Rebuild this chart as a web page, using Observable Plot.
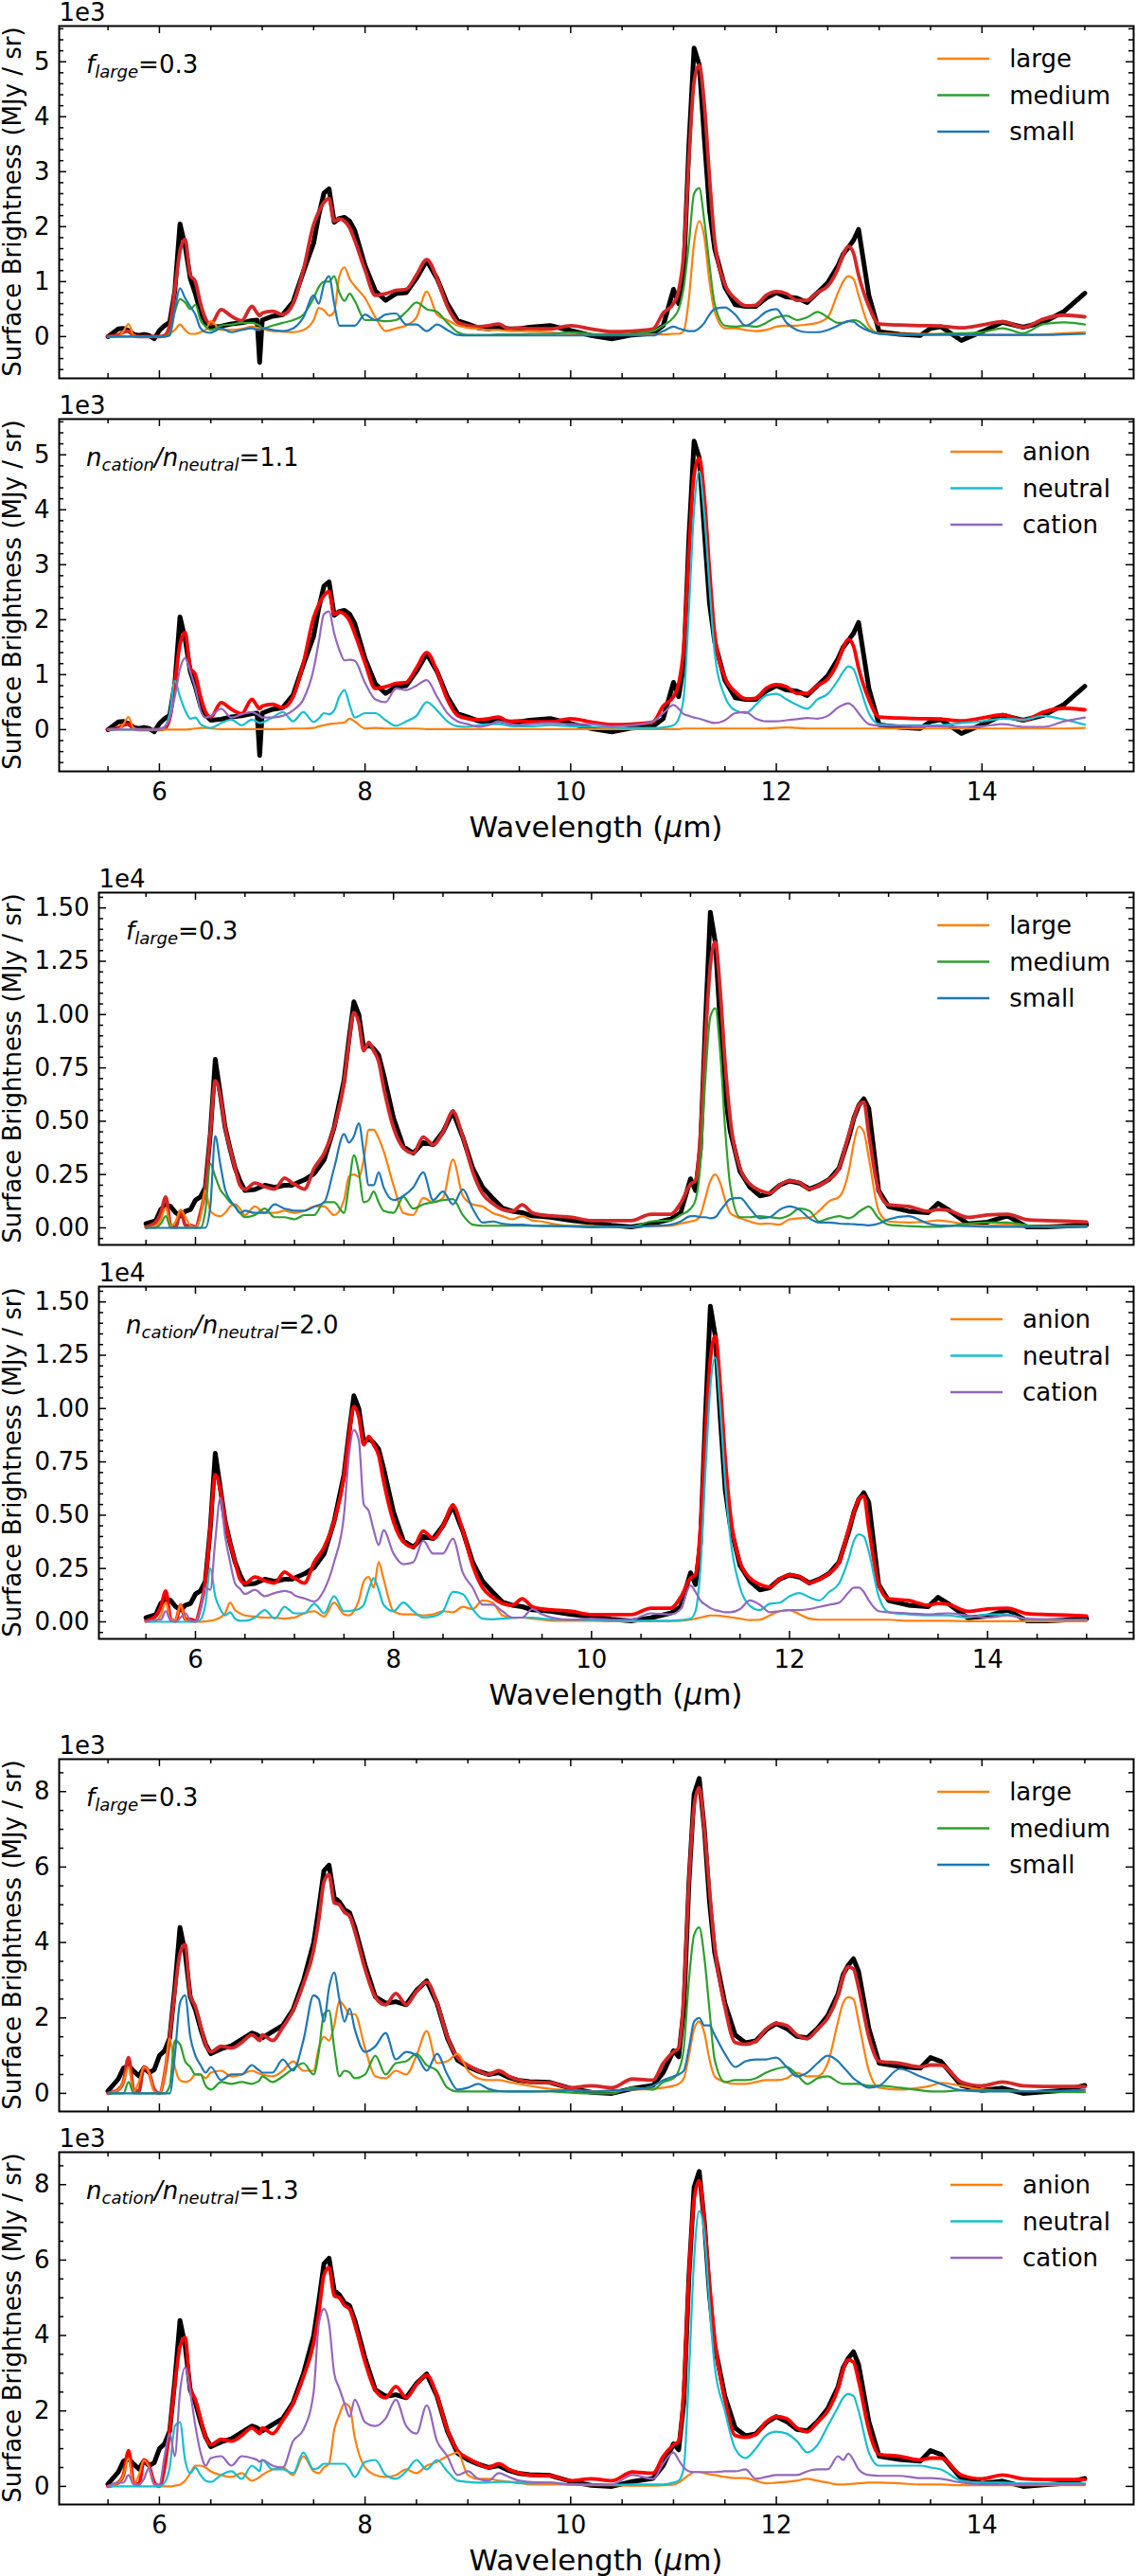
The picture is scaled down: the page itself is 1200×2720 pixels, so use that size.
<!DOCTYPE html>
<html>
<head>
<meta charset="utf-8">
<script src="https://cdn.jsdelivr.net/npm/d3@7"></script>
<script src="https://cdn.jsdelivr.net/npm/@observablehq/plot@0.6"></script>
<style>
  html, body { margin: 0; padding: 0; background: #fff; overflow: hidden; }
  #figure { position: relative; width: 1200px; height: 2720px; }
  #figure svg { position: absolute; left: 0; overflow: visible; }
</style>
</head>
<body>
<div id="figure"></div>
<script>
// Shared wavelength grid (micron) for every spectrum below
const wavelength = [5.5, 5.6, 5.65, 5.7, 5.75, 5.8, 5.85, 5.9, 5.95, 6.0,
  6.05, 6.1, 6.15, 6.2, 6.25, 6.3, 6.35, 6.4, 6.45, 6.5,
  6.6, 6.7, 6.8, 6.9, 6.95, 6.975, 7.0, 7.1, 7.2, 7.3,
  7.4, 7.5, 7.55, 7.6, 7.65, 7.7, 7.75, 7.8, 7.85, 7.9,
  8.0, 8.1, 8.2, 8.3, 8.4, 8.5, 8.6, 8.7, 8.8, 8.9,
  9.0, 9.1, 9.2, 9.3, 9.4, 9.5, 9.6, 9.8, 10.0, 10.2,
  10.4, 10.6, 10.8, 10.9, 11.0, 11.05, 11.1, 11.15, 11.2, 11.25,
  11.3, 11.35, 11.4, 11.5, 11.6, 11.7, 11.8, 11.9, 12.0, 12.1,
  12.2, 12.3, 12.4, 12.5, 12.6, 12.65, 12.7, 12.75, 12.8, 12.9,
  13.0, 13.2, 13.4, 13.5, 13.6, 13.8, 14.0, 14.2, 14.4, 14.6, 14.8, 15.0];

// ---- Region A (surface brightness, MJy/sr) ----
const observedA = [0, 140, 150, 110, 40, 20, 40, 20, -40, 110,
  200, 260, 830, 2050, 1650, 1060, 780, 430, 260, 170,
  190, 230, 250, 290, 300, -470, 300, 370, 400, 630,
  1180, 1700, 2210, 2610, 2690, 2080, 2150, 2170, 2100, 1930,
  1290, 830, 660, 780, 800, 1060, 1380, 1060, 600, 290,
  230, 160, 140, 170, 140, 140, 170, 200, 110, 20,
  -40, 30, 60, 200, 860, 600, 1200, 3500, 5250, 4950,
  3600, 2300, 1600, 900, 580, 550, 550, 700, 800, 720,
  700, 620, 800, 980, 1290, 1500, 1620, 1750, 1950, 750,
  90, 40, 20, 150, 180, -70, 90, 260, 170, 260, 460, 790];
const modelA = [0, 30, 80, 100, 20, 0, 0, 0, 0, 0,
  20, 200, 850, 1550, 1770, 1120, 1000, 600, 320, 230,
  490, 370, 290, 550, 430, 380, 430, 460, 400, 600,
  1210, 2040, 2270, 2440, 2510, 2100, 2140, 2100, 1980, 1750,
  1210, 750, 780, 840, 860, 1120, 1400, 1060, 550, 260,
  200, 180, 200, 230, 140, 160, 140, 140, 200, 140,
  90, 100, 140, 430, 600, 830, 1520, 3250, 4630, 4940,
  4220, 2900, 1750, 950, 690, 560, 570, 750, 820, 780,
  660, 660, 800, 920, 1240, 1490, 1640, 1520, 1120, 550,
  230, 210, 200, 200, 190, 160, 210, 270, 170, 320, 390, 360];
const largeA = [0, 0, 100, 230, 20, 0, 0, 0, 0, 0,
  0, 50, 120, 220, 120, 50, 50, 80, 120, 280,
  120, 120, 140, 180, 160, 150, 140, 100, 90, 80,
  120, 300, 520, 480, 380, 450, 1100, 1260, 1050, 920,
  700, 350, 100, 150, 200, 350, 820, 400, 300, 200,
  160, 140, 120, 120, 100, 100, 100, 80, 40, 30,
  30, 30, 40, 40, 50, 50, 100, 700, 1700, 2100,
  1800, 1000, 450, 150, 150, 120, 100, 120, 180, 200,
  200, 220, 250, 350, 800, 1000, 1100, 1050, 750, 200,
  60, 50, 50, 50, 50, 40, 30, 30, 30, 40, 60, 80];
const mediumA = [0, 0, 0, 0, 0, 0, 0, 0, 0, 0,
  0, 50, 450, 680, 620, 500, 580, 300, 180, 120,
  200, 220, 250, 250, 220, 200, 150, 200, 250, 300,
  400, 700, 900, 1000, 1000, 1100, 800, 650, 780, 650,
  300, 300, 280, 300, 450, 620, 500, 450, 250, 80,
  30, 30, 30, 40, 40, 40, 50, 50, 80, 50,
  40, 50, 100, 200, 350, 500, 900, 1700, 2600, 2700,
  2100, 1300, 600, 200, 180, 200, 180, 250, 350, 380,
  300, 350, 450, 350, 250, 250, 280, 300, 280, 120,
  50, 40, 40, 40, 50, 60, 80, 150, 60, 230, 260, 220];
const smallA = [0, 0, 0, 0, 0, 0, 0, 0, 0, 0,
  0, 20, 500, 880, 700, 550, 400, 150, 80, 70,
  150, 80, 120, 150, 120, 120, 150, 120, 100, 150,
  350, 750, 600, 950, 1100, 600, 200, 200, 200, 200,
  400, 300, 400, 420, 220, 220, 100, 220, 120, 30,
  20, 20, 20, 20, 20, 20, 20, 20, 20, 20,
  20, 20, 20, 100, 180, 150, 120, 100, 100, 150,
  250, 400, 500, 530, 400, 200, 300, 450, 500, 250,
  120, 80, 80, 120, 200, 250, 280, 270, 200, 100,
  50, 30, 30, 30, 30, 30, 30, 30, 30, 30, 40, 50];
const anionA = [0, 0, 100, 230, 20, 0, 0, 0, 0, 0,
  0, 0, 0, 0, 0, 10, 20, 30, 30, 20,
  10, 10, 10, 10, 10, 10, 10, 10, 10, 20,
  20, 30, 60, 80, 100, 110, 120, 130, 200, 150,
  20, 30, 20, 20, 20, 20, 10, 10, 10, 10,
  10, 10, 10, 10, 10, 10, 10, 10, 10, 10,
  10, 10, 10, 10, 10, 10, 20, 20, 20, 20,
  20, 20, 20, 20, 20, 20, 20, 20, 30, 40,
  30, 20, 20, 20, 20, 20, 20, 20, 20, 20,
  20, 20, 20, 20, 20, 20, 20, 20, 20, 20, 20, 30];
const neutralA = [0, 0, 0, 0, 0, 0, 0, 0, 0, 0,
  50, 300, 890, 600, 350, 200, 220, 100, 50, 30,
  120, 180, 80, 180, 140, 120, 130, 220, 320, 150,
  320, 140, 200, 300, 280, 350, 600, 720, 450, 220,
  300, 300, 170, 70, 150, 250, 500, 350, 150, 60,
  50, 80, 100, 100, 70, 60, 60, 80, 60, 50,
  40, 30, 30, 40, 80, 200, 600, 2200, 4000, 4700,
  3900, 2600, 1400, 600, 350, 300, 450, 620, 650, 550,
  450, 380, 550, 650, 900, 1050, 1150, 1100, 850, 300,
  100, 80, 80, 80, 80, 120, 150, 200, 180, 250, 180, 90];
const cationA = [0, 0, 0, 0, 0, 0, 0, 0, 0, 20,
  50, 200, 600, 1100, 1300, 1050, 750, 350, 220, 250,
  380, 220, 280, 320, 280, 250, 220, 220, 250, 350,
  550, 1100, 1600, 2100, 2150, 1750, 1450, 1260, 1270, 1250,
  850, 550, 500, 750, 720, 800, 900, 600, 300, 150,
  100, 50, 80, 150, 100, 80, 100, 120, 100, 100,
  60, 80, 150, 300, 450, 380, 280, 250, 220, 200,
  170, 140, 120, 170, 300, 320, 200, 150, 150, 170,
  190, 210, 200, 250, 400, 450, 480, 420, 300, 100,
  70, 70, 60, 60, 60, 50, 60, 100, 50, 50, 150, 220];

// ---- Region B ----
const observedB = [190, 340, 860, 1080, 1000, 710, 560, 780, 860, 1300,
  1450, 1900, 4400, 7900, 6300, 4700, 3700, 2800, 2200, 1750,
  1800, 2000, 1900, 2000, 2000, 2000, 2050, 2250, 2550, 3200,
  4700, 6900, 8850, 10600, 10000, 8400, 8600, 8400, 8100, 7200,
  5150, 3800, 3500, 4000, 3900, 4500, 5450, 4250, 2800, 1900,
  1400, 930, 780, 710, 560, 530, 490, 340, 240, 120,
  40, 190, 410, 710, 2300, 1750, 3700, 9600, 14800, 13400,
  9600, 6200, 4560, 2640, 1900, 1500, 1600, 2000, 2200, 2100,
  1820, 2000, 2270, 2800, 4260, 5150, 5750, 6050, 5600, 1750,
  1000, 780, 710, 1150, 860, 190, 270, 560, 40, 40, 90, 150];
const modelB = [40, 270, 700, 1450, 120, 40, 780, 120, 120, 40,
  700, 1900, 4400, 6900, 6200, 4700, 3700, 2800, 2000, 1800,
  2100, 1930, 1820, 2340, 2200, 2100, 2050, 1820, 2800, 3500,
  4700, 6800, 8700, 10100, 9600, 8300, 8700, 8300, 7800, 6600,
  4700, 3750, 3500, 4260, 3900, 4500, 5450, 4260, 2640, 1600,
  1150, 860, 780, 1080, 710, 600, 560, 490, 340, 340,
  340, 640, 640, 1150, 2050, 2200, 4400, 8850, 12300, 13400,
  11100, 7700, 5150, 2800, 2050, 1750, 1630, 2000, 2200, 2120,
  1820, 2000, 2270, 2800, 4400, 5150, 5750, 5900, 4400, 1750,
  1080, 1000, 780, 860, 830, 490, 600, 640, 380, 340, 310, 270];
const largeB = [0, 100, 400, 950, 100, 300, 850, 500, 100, 20,
  500, 1750, 800, 600, 550, 700, 1000, 1100, 900, 600,
  1000, 700, 700, 800, 750, 720, 700, 800, 1000, 1000,
  600, 1300, 2400, 2500, 2400, 3200, 4600, 4600, 4200, 3600,
  2000, 700, 600, 1400, 1200, 1400, 3200, 1500, 1100, 1000,
  700, 550, 400, 550, 350, 300, 200, 100, 100, 50,
  50, 80, 100, 200, 300, 350, 600, 1400, 2200, 2500,
  2100, 1300, 700, 450, 300, 180, 200, 150, 400, 450,
  480, 800, 1250, 1450, 2700, 4000, 4750, 4500, 3300, 800,
  300, 250, 300, 350, 300, 150, 100, 150, 80, 80, 80, 80];
const mediumB = [0, 0, 200, 550, 0, 0, 0, 0, 0, 0,
  0, 800, 3000, 2400, 1800, 1500, 1200, 1000, 700, 500,
  600, 900, 500, 500, 450, 420, 400, 600, 600, 1200,
  1200, 700, 2000, 3400, 2600, 1200, 1300, 1700, 1200, 800,
  700, 1450, 900, 1100, 1200, 1300, 1350, 600, 150, 100,
  100, 100, 100, 100, 100, 100, 100, 80, 60, 50,
  50, 300, 350, 600, 900, 1300, 3000, 7000, 9900, 10300,
  8200, 4600, 2000, 500, 500, 550, 500, 450, 600, 900,
  800, 300, 450, 550, 450, 550, 750, 900, 1000, 450,
  150, 80, 50, 50, 80, 200, 250, 250, 120, 50, 50, 50];
const smallB = [0, 0, 0, 0, 0, 0, 0, 0, 0, 0,
  0, 0, 1000, 4300, 3000, 1800, 1300, 1000, 700, 800,
  700, 700, 1100, 900, 850, 820, 800, 800, 1000, 1200,
  2800, 4400, 4000, 4300, 4900, 3500, 2000, 2000, 2600, 1900,
  1300, 1500, 1900, 2600, 1300, 1700, 1100, 1800, 900, 250,
  300, 200, 150, 150, 100, 80, 80, 60, 30, 50,
  50, 80, 150, 300, 550, 550, 500, 500, 450, 500,
  800, 1100, 1350, 1400, 900, 450, 500, 850, 1000, 850,
  450, 250, 250, 200, 180, 170, 150, 140, 120, 200,
  400, 550, 200, 120, 100, 80, 50, 50, 40, 40, 40, 50];
const anionB = [0, 50, 300, 900, 100, 100, 800, 100, 0, 0,
  0, 20, 50, 100, 200, 400, 900, 550, 400, 300,
  250, 200, 200, 150, 170, 190, 200, 400, 500, 250,
  900, 350, 300, 500, 1000, 1900, 2100, 1600, 2800, 2000,
  500, 350, 350, 300, 350, 500, 450, 700, 600, 1000,
  900, 300, 200, 200, 150, 100, 50, 50, 50, 30,
  30, 30, 30, 50, 100, 150, 200, 250, 300, 300,
  280, 250, 220, 150, 80, 100, 300, 500, 550, 350,
  150, 100, 100, 100, 100, 100, 100, 100, 100, 100,
  100, 50, 50, 50, 50, 30, 30, 30, 30, 30, 30, 30];
const neutralB = [0, 0, 0, 0, 0, 0, 0, 0, 0, 0,
  100, 800, 2500, 1200, 600, 300, 450, 150, 50, 50,
  200, 550, 150, 700, 550, 450, 400, 400, 850, 400,
  1200, 500, 500, 550, 600, 800, 1500, 2050, 1500, 800,
  500, 900, 500, 200, 250, 500, 1400, 1300, 600, 150,
  120, 150, 180, 200, 200, 150, 120, 100, 80, 50,
  40, 50, 50, 80, 150, 500, 2500, 7000, 11000, 12400,
  10000, 6500, 4000, 1600, 750, 550, 850, 900, 1200, 1350,
  1150, 1000, 1400, 1800, 3000, 3800, 4100, 4000, 3300, 1200,
  450, 350, 300, 300, 300, 200, 350, 350, 120, 100, 100, 100];
const cationB = [0, 100, 100, 500, 50, 0, 200, 400, 50, 20,
  600, 1600, 1500, 3800, 5800, 4000, 2800, 1800, 1550, 1300,
  1500, 1200, 1350, 1450, 1400, 1350, 1250, 1100, 950, 1500,
  2800, 5000, 7800, 9000, 8500, 5500, 5200, 4300, 3600, 4300,
  3200, 2700, 2800, 3800, 3200, 3200, 3900, 2300, 1600, 800,
  800, 500, 200, 200, 600, 350, 200, 100, 150, 100,
  100, 400, 350, 600, 1700, 1400, 1000, 800, 650, 550,
  500, 450, 450, 600, 1000, 800, 450, 500, 550, 550,
  600, 700, 800, 900, 1400, 1600, 1600, 1400, 1000, 500,
  450, 400, 350, 380, 400, 300, 200, 300, 150, 120, 100, 100];

// ---- Region C ----
const observedC = [60, 380, 670, 730, 590, 460, 670, 550, 630, 1000,
  1130, 1470, 2810, 4400, 3740, 2560, 2220, 1720, 1300, 1050,
  1180, 1260, 1430, 1600, 1550, 1500, 1470, 1640, 1800, 2220,
  2980, 3990, 4910, 5900, 6050, 5200, 5080, 4870, 4790, 4410,
  3400, 2560, 2390, 2430, 2350, 2730, 2980, 2390, 1470, 880,
  710, 590, 500, 550, 420, 340, 310, 290, 130, 30,
  0, 130, 210, 550, 1130, 970, 2230, 5580, 7930, 8350,
  7010, 5080, 3740, 2390, 1550, 1340, 1390, 1680, 1850, 1720,
  1510, 1470, 1720, 2060, 2640, 3150, 3400, 3570, 3230, 1720,
  800, 710, 670, 950, 850, 210, 80, 140, 0, 40, 80, 210];
const modelC = [0, 100, 300, 950, 100, 50, 700, 550, 100, 0,
  500, 1500, 2700, 3700, 3950, 2600, 2300, 1800, 1300, 1100,
  1250, 1200, 1350, 1550, 1450, 1400, 1550, 1400, 1750, 2200,
  2900, 3800, 4600, 5600, 5800, 5050, 5000, 4800, 4700, 4300,
  3300, 2550, 2350, 2650, 2350, 2700, 2950, 2400, 1500, 950,
  750, 600, 500, 600, 450, 350, 300, 280, 150, 200,
  150, 380, 350, 800, 1100, 1200, 2600, 5600, 7600, 8100,
  7000, 5400, 3900, 2300, 1350, 1300, 1380, 1700, 1850, 1800,
  1550, 1450, 1700, 2000, 2600, 3100, 3350, 3300, 2800, 1500,
  850, 800, 700, 750, 750, 300, 200, 300, 200, 180, 180, 180];
const largeC = [0, 100, 300, 700, 50, 300, 700, 550, 50, 0,
  500, 1450, 700, 350, 300, 350, 500, 500, 400, 550,
  600, 450, 500, 600, 550, 520, 500, 450, 600, 850,
  600, 600, 1200, 1500, 1400, 1800, 2450, 2300, 2100, 2100,
  1200, 450, 400, 600, 500, 1000, 1650, 800, 850, 1050,
  600, 400, 350, 350, 300, 250, 200, 120, 80, 60,
  60, 100, 120, 150, 200, 250, 400, 1000, 1700, 1900,
  1600, 900, 450, 300, 250, 250, 300, 350, 350, 400,
  550, 450, 450, 800, 1900, 2400, 2550, 2500, 1900, 600,
  150, 100, 150, 200, 280, 200, 100, 80, 60, 60, 60, 60];
const mediumC = [0, 0, 0, 300, 0, 0, 0, 0, 0, 0,
  0, 200, 1400, 1300, 850, 700, 500, 500, 200, 100,
  300, 250, 300, 250, 300, 350, 450, 300, 450, 650,
  800, 500, 1100, 2100, 2200, 1200, 450, 600, 550, 400,
  500, 1000, 500, 800, 850, 1050, 750, 600, 150, 50,
  50, 50, 50, 50, 50, 50, 50, 50, 20, 0,
  0, 150, 100, 300, 400, 600, 1200, 3000, 4200, 4400,
  3600, 2200, 900, 300, 350, 350, 400, 550, 650, 700,
  500, 250, 400, 450, 300, 250, 250, 250, 250, 200,
  200, 150, 80, 50, 50, 80, 80, 80, 60, 50, 40, 30];
const smallC = [0, 0, 0, 0, 0, 0, 0, 0, 0, 0,
  0, 0, 1000, 2400, 2600, 1500, 1000, 750, 550, 700,
  350, 500, 500, 750, 650, 600, 550, 550, 900, 600,
  1400, 2600, 2500, 1900, 2800, 3200, 2500, 1900, 2250, 1700,
  1100, 1250, 1600, 900, 1100, 1000, 600, 1050, 500, 100,
  150, 250, 120, 60, 50, 50, 50, 60, 80, 50,
  80, 100, 200, 350, 450, 500, 600, 1200, 1900, 2000,
  1800, 1800, 1550, 1050, 700, 850, 900, 900, 950, 700,
  450, 550, 800, 1000, 850, 700, 550, 400, 300, 150,
  200, 650, 450, 350, 250, 80, 50, 50, 50, 60, 70, 100];
const anionC = [0, 100, 300, 750, 50, 300, 700, 500, 50, 0,
  0, 0, 20, 50, 150, 350, 550, 550, 500, 400,
  300, 250, 350, 150, 200, 250, 300, 450, 500, 300,
  800, 400, 350, 500, 600, 1500, 1900, 2200, 2100, 1300,
  500, 300, 250, 300, 450, 350, 550, 650, 800, 900,
  300, 200, 200, 150, 120, 100, 50, 50, 50, 30,
  30, 20, 20, 30, 50, 100, 200, 300, 380, 380,
  350, 320, 300, 250, 220, 220, 150, 80, 100, 120,
  150, 200, 150, 100, 50, 50, 60, 70, 80, 100,
  100, 80, 50, 50, 50, 30, 30, 30, 30, 30, 30, 30];
const neutralC = [0, 0, 0, 0, 0, 0, 0, 0, 0, 0,
  100, 500, 1600, 1700, 700, 350, 500, 300, 150, 120,
  300, 400, 200, 550, 450, 400, 700, 450, 450, 350,
  900, 450, 500, 600, 600, 600, 600, 600, 450, 250,
  650, 700, 300, 200, 400, 700, 450, 700, 400, 150,
  120, 100, 100, 120, 120, 80, 80, 100, 50, 40,
  40, 50, 50, 50, 100, 150, 500, 3000, 6000, 7300,
  6700, 4800, 3200, 2000, 1000, 750, 1000, 1350, 1450, 1400,
  1200, 900, 1100, 1600, 2100, 2350, 2450, 2400, 2000, 900,
  550, 550, 550, 500, 450, 150, 100, 100, 80, 80, 80, 80];
const cationC = [0, 100, 100, 300, 50, 50, 200, 500, 50, 50,
  800, 1400, 800, 2500, 3150, 2500, 1600, 900, 550, 750,
  800, 550, 800, 750, 700, 650, 700, 550, 500, 1200,
  1500, 2500, 4300, 4700, 4300, 3000, 2600, 2200, 1850, 2300,
  1700, 1600, 1800, 2300, 1600, 1400, 2150, 1200, 800, 300,
  400, 200, 150, 350, 250, 150, 120, 100, 50, 50,
  50, 300, 200, 600, 900, 700, 500, 400, 380, 380,
  380, 380, 380, 400, 400, 450, 200, 250, 300, 300,
  300, 400, 450, 450, 800, 700, 870, 700, 450, 300,
  280, 280, 220, 220, 200, 100, 50, 50, 50, 50, 50, 50];

// Legend entries and annotation values
const sizeLabels = ["large", "medium", "small"];
const chargeLabels = ["anion", "neutral", "cation"];
const fLarge = [0.3, 0.3, 0.3];
const cationNeutralRatio = [1.1, 2.0, 1.3];
const offsetLabels = ["1e3", "1e4", "1e3"];

// ---- styling / layout ----
const FONT = '"DejaVu Sans", "Bitstream Vera Sans", sans-serif';
const FRAME_H = 372, MARGIN_TOP = 40, MARGIN_RIGHT = 3;
const X_DOMAIN = [5.025, 15.475];
const xMajor = [6, 8, 10, 12, 14];
const xMinor = d3.range(11, 31).map(k => k / 2).filter(t => !xMajor.includes(t));
const sizeColors = ["#ff7f0e", "#2ca02c", "#1f77b4"];
const chargeColors = ["#ff7f0e", "#17becf", "#9467bd"];

const regionLayout = [
  {tops: [27, 442], left: 62, yDomain: [-760, 5650], major: 1000, minor: 200, fmt: v => String(v / 1000)},
  {tops: [942, 1358], left: 104, yDomain: [-800, 15720], major: 2500, minor: 500, fmt: v => (v / 1e4).toFixed(2)},
  {tops: [1857, 2272], left: 62, yDomain: [-480, 8860], major: 2000, minor: 500, fmt: v => String(v / 1000)}
];
const regionData = [
  {observed: observedA, model: modelA, size: [largeA, mediumA, smallA], charge: [anionA, neutralA, cationA]},
  {observed: observedB, model: modelB, size: [largeB, mediumB, smallB], charge: [anionB, neutralB, cationB]},
  {observed: observedC, model: modelC, size: [largeC, mediumC, smallC], charge: [anionC, neutralC, cationC]}
];

const rows = values => wavelength.map((w, i) => ({w, v: values[i]}));
const measure = document.createElement("canvas").getContext("2d");

function addNote(g, x, y, parts) {
  const t = g.append("text").attr("x", x).attr("y", y).attr("text-anchor", "start").attr("font-size", 26).attr("fill", "black");
  let shift = 0;
  for (const p of parts) {
    const s = t.append("tspan").text(p.text);
    if (p.italic) s.attr("font-style", "italic");
    const target = p.sub ? 5 : 0;
    if (p.sub) s.attr("font-size", 18);
    if (target !== shift) { s.attr("dy", target - shift); shift = target; }
  }
}

function panel(cfg) {
  const {top, left, bottom, yDomain, major, minor, fmt, offset, observed, model, modelColor, comps, labels, colors, note} = cfg;
  const mb = bottom ? 100 : 12;
  const W = 1200 - left - MARGIN_RIGHT;
  const [lo, hi] = yDomain;
  const yMajor = d3.range(0, hi, major);
  const yMinor = d3.range(Math.ceil(lo / minor) * minor, hi, minor).filter(v => v % major !== 0);

  const marks = [
    Plot.line(rows(observed), {x: "w", y: "v", stroke: "black", strokeWidth: 5, strokeLinejoin: "round"}),
    Plot.line(rows(model), {x: "w", y: "v", stroke: modelColor, strokeWidth: 3.8, curve: "monotone-x"}),
    ...comps.map((c, i) => Plot.line(rows(c), {x: "w", y: "v", stroke: colors[i], strokeWidth: 2.2, curve: "monotone-x"})),
    Plot.tickX(xMajor, {x: d => d, insetTop: FRAME_H - 8, strokeWidth: 1.5}),
    Plot.tickX(xMinor, {x: d => d, insetTop: FRAME_H - 5, strokeWidth: 1.5}),
    Plot.tickX(xMajor, {x: d => d, insetBottom: FRAME_H - 8, strokeWidth: 1.5}),
    Plot.tickX(xMinor, {x: d => d, insetBottom: FRAME_H - 5, strokeWidth: 1.5}),
    Plot.tickY(yMajor, {y: d => d, insetRight: W - 8, strokeWidth: 1.5}),
    Plot.tickY(yMinor, {y: d => d, insetRight: W - 5, strokeWidth: 1.5}),
    Plot.tickY(yMajor, {y: d => d, insetLeft: W - 8, strokeWidth: 1.5}),
    Plot.tickY(yMinor, {y: d => d, insetLeft: W - 5, strokeWidth: 1.5}),
    Plot.axisY({ticks: yMajor, tickSize: 0, tickPadding: 10, tickFormat: fmt, label: null}),
    Plot.frame({stroke: "black", strokeWidth: 2}),
    Plot.text([offset], {frameAnchor: "top-left", text: d => d, textAnchor: "start", lineAnchor: "bottom", dy: -6, fill: "black"})
  ];
  if (bottom) marks.push(Plot.axisX({ticks: xMajor, tickSize: 0, tickPadding: 12, tickFormat: d => String(d), label: null}));

  const svg = Plot.plot({
    width: 1200,
    height: MARGIN_TOP + FRAME_H + mb,
    marginTop: MARGIN_TOP, marginBottom: mb, marginLeft: left, marginRight: MARGIN_RIGHT,
    x: {domain: X_DOMAIN, axis: null},
    y: {domain: yDomain, axis: null},
    style: {fontFamily: FONT, fontSize: "26px", color: "black", background: "transparent", overflow: "visible"},
    marks
  });
  svg.style.top = (top - MARGIN_TOP) + "px";
  const g = d3.select(svg);

  // y-axis title
  g.append("text")
    .attr("transform", `translate(13,${MARGIN_TOP + FRAME_H / 2}) rotate(-90)`)
    .attr("text-anchor", "middle").attr("dominant-baseline", "central")
    .attr("font-size", 26).attr("fill", "black")
    .text("Surface Brightness (MJy / sr)");

  // x-axis title
  if (bottom) {
    const xl = g.append("text")
      .attr("x", left + W / 2).attr("y", MARGIN_TOP + FRAME_H + 59)
      .attr("text-anchor", "middle").attr("dominant-baseline", "central")
      .attr("font-size", 31).attr("fill", "black");
    xl.append("tspan").text("Wavelength (");
    xl.append("tspan").attr("font-style", "italic").text("\u03bc");
    xl.append("tspan").text("m)");
  }

  // annotation
  addNote(g, left + 29, MARGIN_TOP + 50, note);

  // legend
  measure.font = `26px ${FONT}`;
  const maxW = d3.max(labels, t => measure.measureText(t).width);
  const textX = left + W - 24 - maxW;
  labels.forEach((t, i) => {
    const y = MARGIN_TOP + 35 + i * 38.5;
    g.append("line").attr("x1", textX - 76).attr("x2", textX - 21).attr("y1", y).attr("y2", y)
      .attr("stroke", colors[i]).attr("stroke-width", 2.5);
    g.append("text").attr("x", textX).attr("y", y).attr("text-anchor", "start")
      .attr("dominant-baseline", "central").attr("font-size", 26).attr("fill", "black").text(t);
  });

  document.getElementById("figure").appendChild(svg);
}

regionLayout.forEach((layout, r) => {
  const data = regionData[r];
  const common = {left: layout.left, yDomain: layout.yDomain, major: layout.major, minor: layout.minor,
    fmt: layout.fmt, offset: offsetLabels[r], observed: data.observed, model: data.model};
  panel({...common, top: layout.tops[0], bottom: false, modelColor: "#d62728",
    comps: data.size, labels: sizeLabels, colors: sizeColors,
    note: [{text: "f", italic: true}, {text: "large", italic: true, sub: true}, {text: "=" + fLarge[r].toFixed(1)}]});
  panel({...common, top: layout.tops[1], bottom: true, modelColor: "#ff0000",
    comps: data.charge, labels: chargeLabels, colors: chargeColors,
    note: [{text: "n", italic: true}, {text: "cation", italic: true, sub: true},
           {text: "/n", italic: true}, {text: "neutral", italic: true, sub: true},
           {text: "=" + cationNeutralRatio[r].toFixed(1)}]});
});
</script>
</body>
</html>
